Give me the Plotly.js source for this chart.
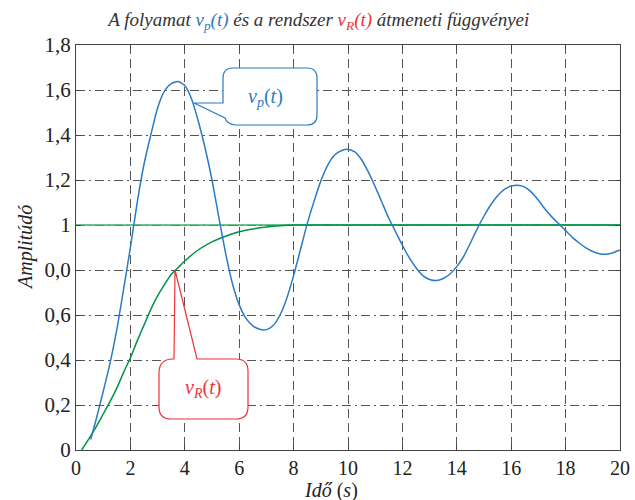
<!DOCTYPE html>
<html>
<head>
<meta charset="utf-8">
<script src="https://cdn.plot.ly/plotly-3.0.1.min.js"></script>
<style>html,body{margin:0;padding:0;background:#fff;}#chart{width:635px;height:500px;}</style>
</head>
<body>
<div id="chart"></div>
<script>
// ---- data ----
const blueT = [0.54,0.75,1.0,1.25,1.5,1.75,2.0,2.25,2.5,2.75,3.0,3.25,3.5,3.75,4.0,4.25,4.5,4.75,5.0,5.25,5.5,5.75,6.0,6.25,6.5,6.75,7.0,7.25,7.5,7.75,8.0,8.25,8.5,8.75,9.0,9.25,9.5,9.75,10.0,10.25,10.5,10.75,11.0,11.25,11.5,11.75,12.0,12.25,12.5,12.75,13.0,13.25,13.5,13.75,14.0,14.25,14.5,14.75,15.0,15.25,15.5,15.75,16.0,16.25,16.5,16.75,17.0,17.25,17.5,17.75,18.0,18.25,18.5,18.75,19.0,19.25,19.5,19.75,20.0];
const blueY = [0.047,0.14,0.26,0.385,0.535,0.715,0.9,1.1,1.27,1.40,1.52,1.595,1.628,1.638,1.62,1.56,1.46,1.34,1.2,1.035,0.875,0.74,0.645,0.585,0.552,0.537,0.535,0.553,0.6,0.675,0.775,0.89,1.005,1.105,1.195,1.265,1.31,1.33,1.336,1.325,1.29,1.235,1.17,1.1,1.03,0.97,0.91,0.855,0.81,0.775,0.758,0.753,0.762,0.782,0.815,0.86,0.92,0.983,1.04,1.09,1.13,1.158,1.173,1.177,1.168,1.145,1.11,1.07,1.035,1.005,0.975,0.945,0.92,0.898,0.882,0.872,0.87,0.877,0.889];
const greenT = [0.21,0.5,0.75,1.0,1.25,1.5,1.75,2.0,2.25,2.5,2.75,3.0,3.25,3.5,3.75,4.0,4.5,5.0,5.5,6.0,6.5,7.0,7.5,8.0,20];
const greenY = [0,0.055,0.105,0.16,0.215,0.275,0.345,0.41,0.485,0.555,0.625,0.685,0.735,0.78,0.81,0.84,0.89,0.925,0.95,0.97,0.982,0.991,0.997,1,1];
const steadyT = [0,20];
const steadyY = [1,1];
const xTickVals = [0,2,4,6,8,10,12,14,16,18,20];
const yTickVals = [0,0.2,0.4,0.6,0.8,1,1.2,1.4,1.6,1.8];
const yTickText = ['0','0,2','0,4','0,6','0,0','1','1,2','1,4','1,6','1,8'];

// ---- layout helpers (pixel -> data for callouts) ----
const L = 76, R = 15, T = 45, B = 50, W = 635, H = 500;
const pw = W - L - R, ph = H - T - B;
function px(x, y) { return ((x - L) / pw * 20).toFixed(4) + ',' + ((H - B - y) / ph * 1.8).toFixed(4); }
const bluePath = 'M' + px(233,68) + ' L' + px(307,68) + ' Q' + px(317,68) + ' ' + px(317,78) +
  ' L' + px(317,115) + ' Q' + px(317,125) + ' ' + px(307,125) + ' L' + px(235,125) +
  ' Q' + px(227,124) + ' ' + px(225,118) + ' L' + px(194,103) + ' L' + px(223,103) +
  ' L' + px(223,78) + ' Q' + px(223,68) + ' ' + px(233,68) + ' Z';
const redPath = 'M' + px(174,359) + ' L' + px(175,270) + ' L' + px(197,359) + ' L' + px(236,359) +
  ' Q' + px(248,359) + ' ' + px(248,371) + ' L' + px(248,407) + ' Q' + px(248,419) + ' ' + px(236,419) +
  ' L' + px(171,419) + ' Q' + px(159,419) + ' ' + px(159,407) + ' L' + px(159,373) +
  ' Q' + px(159,359) + ' ' + px(173,359) + ' Z';
function paperX(p) { return (p - L) / pw; }
function paperY(p) { return (H - B - p) / ph; }

const serif = '"Liberation Serif", "DejaVu Serif", "Times New Roman", Times, serif';
const BLUE = '#2a7bc4', GREEN = '#00924a', RED = '#ee3338';

const traces = [
  {x: steadyT, y: steadyY, mode: 'lines', line: {color: '#33b066', width: 1.3}, hoverinfo: 'skip'},
  {x: greenT, y: greenY, mode: 'lines', line: {color: GREEN, width: 1.5, shape: 'spline', smoothing: 0.6, simplify: false}},
  {x: blueT, y: blueY, mode: 'lines', line: {color: BLUE, width: 1.5, shape: 'spline', smoothing: 0.6, simplify: false}}
];

const axisCommon = {
  showline: true, linecolor: '#444', linewidth: 1, mirror: 'ticks',
  ticks: 'inside', ticklen: 5, tickcolor: '#444',
  showgrid: true, gridcolor: '#555', gridwidth: 1, zeroline: false
};

const layout = {
  width: W, height: H,
  margin: {l: L, r: R, t: T, b: B},
  paper_bgcolor: '#fff', plot_bgcolor: '#fff',
  font: {family: serif},
  showlegend: false,
  title: {
    text: '<i>A folyamat <span style="color:' + BLUE + '">v<sub>p</sub>(t)</span> és a rendszer <span style="color:' + RED + '">v<sub>R</sub>(t)</span> átmeneti függvényei</i>',
    font: {family: serif, size: 19, color: '#333'},
    x: 0.502, xanchor: 'center', y: 0.962, yanchor: 'middle', yref: 'container'
  },
  xaxis: Object.assign({}, axisCommon, {
    range: [0, 20], tickvals: xTickVals, ticktext: xTickVals.map(String),
    griddash: '9px,5px',
    tickfont: {family: serif, size: 20, color: '#222'}
  }),
  yaxis: Object.assign({}, axisCommon, {
    range: [0, 1.8], tickvals: yTickVals, ticktext: yTickText,
    griddash: '9px,4px,2px,4px',
    tickfont: {family: serif, size: 21, color: '#222'}
  }),
  shapes: [
    {type: 'path', path: bluePath, xref: 'x', yref: 'y', line: {color: BLUE, width: 1.2}, fillcolor: '#fff', layer: 'above'},
    {type: 'path', path: redPath, xref: 'x', yref: 'y', line: {color: RED, width: 1.2}, fillcolor: '#fff', layer: 'above'}
  ],
  annotations: [
    {x: (265 - L) / pw * 20, y: (H - B - 97) / ph * 1.8, xref: 'x', yref: 'y', showarrow: false,
     text: '<i>v<sub>p</sub></i>(<i>t</i>)', font: {family: serif, size: 20, color: BLUE}},
    {x: (203 - L) / pw * 20, y: (H - B - 388) / ph * 1.8, xref: 'x', yref: 'y', showarrow: false,
     text: '<i>v<sub>R</sub></i>(<i>t</i>)', font: {family: serif, size: 20, color: RED}},
    {x: paperX(331), y: paperY(490), xref: 'paper', yref: 'paper', showarrow: false,
     xanchor: 'center', yanchor: 'middle',
     text: '<i>Idő</i> (<i>s</i>)', font: {family: serif, size: 20, color: '#222'}},
    {x: paperX(25), y: paperY(248), xref: 'paper', yref: 'paper', showarrow: false, textangle: -90,
     xanchor: 'center', yanchor: 'middle',
     text: '<i>Amplitúdó</i>', font: {family: serif, size: 20, color: '#222'}}
  ]
};

Plotly.newPlot('chart', traces, layout, {staticPlot: true, displayModeBar: false});
</script>
</body>
</html>
